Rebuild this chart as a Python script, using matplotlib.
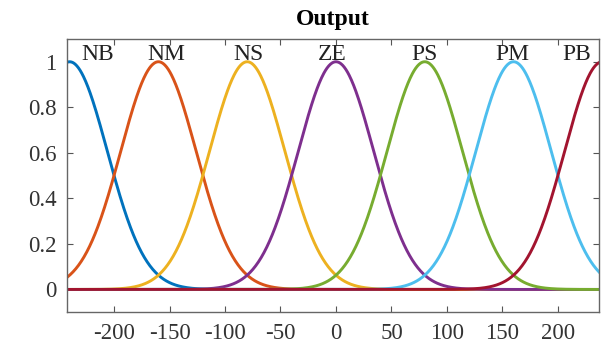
import numpy as np
import matplotlib
matplotlib.use('Agg')
import matplotlib.pyplot as plt

# membership functions of the output variable (gaussian)
labels = ['NB', 'NM', 'NS', 'ZE', 'PS', 'PM', 'PB']
centers = [-240, -160, -80, 0, 80, 160, 240]
sigma = 34
colors = ['#0072BD', '#D95319', '#EDB120', '#7E2F8E', '#77AC30', '#4DBEEE', '#A2142F']
label_x = [-215, -153, -79, -3, 80, 159, 217]

xticks = [-200, -150, -100, -50, 0, 50, 100, 150, 200]
yticks = [0, 0.2, 0.4, 0.6, 0.8, 1]
ytick_labels = ['0', '0.2', '0.4', '0.6', '0.8', '1']

plt.rcParams['font.family'] = ['Liberation Serif', 'DejaVu Serif']
plt.rcParams['axes.unicode_minus'] = False

fig = plt.figure(figsize=(6.02, 3.45), dpi=100)
ax = fig.add_axes([0.112, 0.095, 0.883, 0.792])

x = np.linspace(-242, 237, 961)
for c, col in zip(centers, colors):
    ax.plot(x, np.exp(-(x - c) ** 2 / (2.0 * sigma ** 2)), color=col, lw=2.1)

for lab, lx in zip(labels, label_x):
    ax.text(lx, 1.008, lab, ha='center', va='baseline', fontsize=17, color='#222222')

ax.set_xlim(-242, 237)
ax.set_ylim(-0.1, 1.1)
ax.set_xticks(xticks)
ax.set_yticks(yticks)
ax.set_yticklabels(ytick_labels)
ax.tick_params(direction='in', top=True, right=True, labelsize=16.5,
               colors='#555555', labelcolor='#333333', length=4, pad=8)
for s in ax.spines.values():
    s.set_color('#666666')
    s.set_linewidth(1.0)
ax.set_title('Output', fontsize=17, fontweight='bold', pad=10)

plt.savefig('out.png', dpi=100)
